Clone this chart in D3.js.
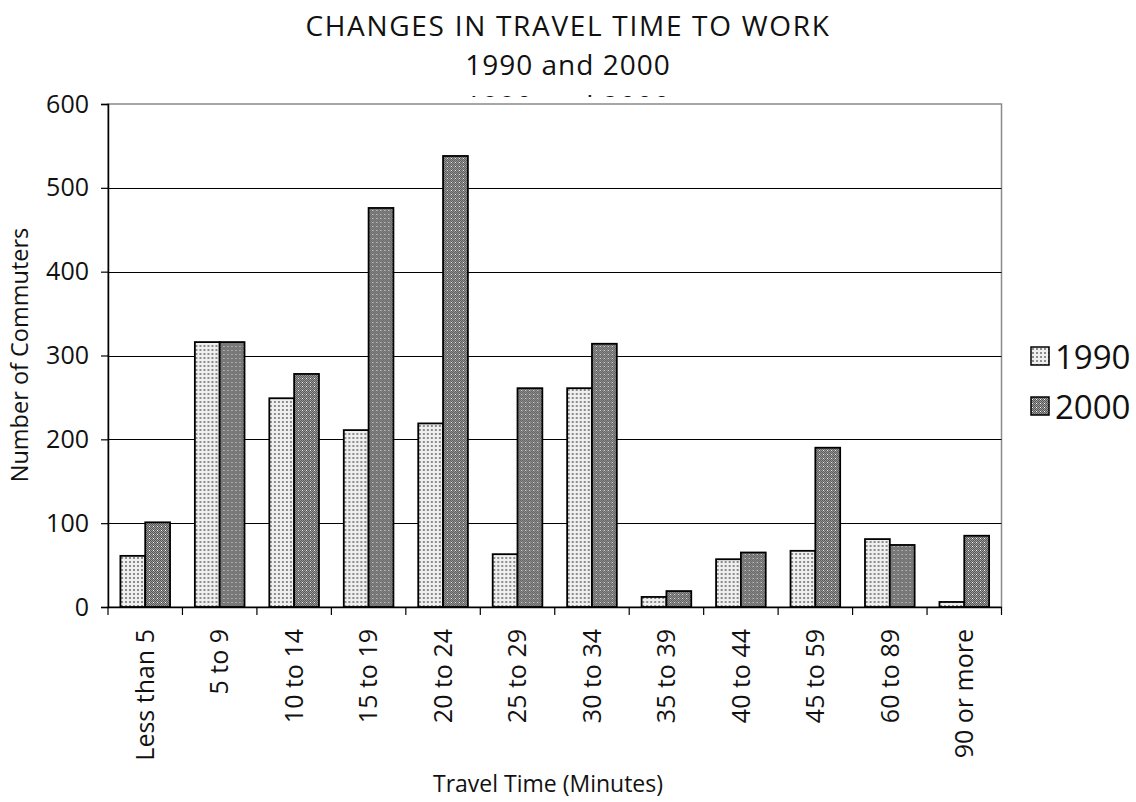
<!DOCTYPE html>
<html>
<head>
<meta charset="utf-8">
<script src="https://cdn.jsdelivr.net/npm/d3@7"></script>
<style>
  html, body { margin: 0; padding: 0; background: #fff; }
  svg { display: block; font-family: "Open Sans", Lato, sans-serif; }
</style>
</head>
<body>
<svg id="chart" width="1136" height="802"></svg>
<script>
// Commuters by travel time band
const categories = ["Less than 5", "5 to 9", "10 to 14", "15 to 19", "20 to 24", "25 to 29",
                    "30 to 34", "35 to 39", "40 to 44", "45 to 59", "60 to 89", "90 or more"];
const series = ["1990", "2000"];
const values1990 = [61, 316, 249, 211, 219, 63, 261, 12, 57, 67, 81, 6];
const values2000 = [101, 316, 278, 476, 538, 261, 314, 19, 65, 190, 74, 85];
const yTicks = [0, 100, 200, 300, 400, 500, 600];

const FONT = "'Open Sans', Lato, sans-serif";
const svg = d3.select("#chart");
const plot = { left: 108, right: 1001.5, top: 104, bottom: 607 };

// Fill patterns for the two series
const defs = svg.append("defs");
const p1 = defs.append("pattern").attr("id", "pat1990")
  .attr("patternUnits", "userSpaceOnUse").attr("width", 4).attr("height", 4);
p1.append("rect").attr("width", 4).attr("height", 4).attr("fill", "#efefef");
p1.append("rect").attr("x", 1).attr("y", 1).attr("width", 2).attr("height", 2).attr("fill", "#8c8c8c");

const p2 = defs.append("pattern").attr("id", "pat2000")
  .attr("patternUnits", "userSpaceOnUse").attr("width", 4).attr("height", 4);
p2.append("rect").attr("width", 4).attr("height", 4).attr("fill", "#9c9c9c");
[[0,0],[2,0],[1,1],[3,1],[0,2],[2,2],[1,3],[3,3]].forEach(([x, y]) =>
  p2.append("rect").attr("x", x).attr("y", y).attr("width", 1).attr("height", 1).attr("fill", "#545454"));
p2.append("rect").attr("x", 1).attr("y", 2).attr("width", 1).attr("height", 1).attr("fill", "#ffffff");

// Clip for the partially hidden second subtitle line
defs.append("clipPath").attr("id", "ghostClip")
  .append("rect").attr("x", 0).attr("y", 0).attr("width", 1136).attr("height", 97);

const x = d3.scaleBand().domain(categories).range([plot.left, plot.right]).padding(0);
const y = d3.scaleLinear().domain([0, 600]).range([plot.bottom, plot.top]);
const barW = x.bandwidth() / 3;
const xs = d3.scaleBand().domain(series).range([barW / 2, barW / 2 + 2 * barW]).padding(0);

// Titles
svg.append("text").attr("x", 568).attr("y", 36).attr("text-anchor", "middle")
  .attr("font-size", 28).attr("letter-spacing", 1.7).attr("fill", "#111")
  .text("CHANGES IN TRAVEL TIME TO WORK");
svg.append("text").attr("x", 568).attr("y", 75).attr("text-anchor", "middle")
  .attr("font-size", 28).attr("letter-spacing", 1).attr("fill", "#111").text("1990 and 2000");
svg.append("text").attr("x", 568).attr("y", 115.5).attr("text-anchor", "middle")
  .attr("font-size", 28).attr("letter-spacing", 1).attr("fill", "#111")
  .attr("clip-path", "url(#ghostClip)").text("1990 and 2000");

// Plot frame
svg.append("rect").attr("x", plot.left).attr("y", plot.top)
  .attr("width", plot.right - plot.left).attr("height", plot.bottom - plot.top)
  .attr("fill", "#fff").attr("stroke", "#8a8a8a").attr("stroke-width", 1.5);

// Gridlines
svg.append("g").selectAll("line").data(yTicks.filter(d => d > 0 && d < 600)).join("line")
  .attr("x1", plot.left).attr("x2", plot.right)
  .attr("y1", d => Math.round(y(d)) + 0.5).attr("y2", d => Math.round(y(d)) + 0.5)
  .attr("stroke", "#000").attr("stroke-width", 1.2);

// Bars
const groups = svg.append("g").selectAll("g").data(categories).join("g")
  .attr("transform", d => `translate(${x(d)},0)`);
groups.selectAll("rect")
  .data((d, i) => [{ s: "1990", v: values1990[i] }, { s: "2000", v: values2000[i] }])
  .join("rect")
  .attr("x", d => xs(d.s))
  .attr("y", d => y(d.v))
  .attr("width", barW)
  .attr("height", d => y(0) - y(d.v))
  .attr("fill", d => `url(#pat${d.s})`)
  .attr("stroke", "#000").attr("stroke-width", 1.8);

// Y axis
const yAxis = svg.append("g").attr("transform", `translate(${plot.left},0)`)
  .call(d3.axisLeft(y).tickValues(yTicks).tickSize(7).tickPadding(12));
yAxis.select(".domain").attr("stroke", "#000").attr("stroke-width", 1.5);
yAxis.selectAll(".tick line").attr("stroke", "#000").attr("stroke-width", 1.2);
yAxis.selectAll(".tick text").attr("font-size", 25).attr("fill", "#111")
  .attr("font-family", FONT);

// X axis
const xAxis = svg.append("g").attr("transform", `translate(0,${plot.bottom})`)
  .call(d3.axisBottom(x).tickSize(0).tickSizeOuter(0));
xAxis.select(".domain").attr("stroke", "#000").attr("stroke-width", 1.5);
xAxis.selectAll(".tick text")
  .attr("font-size", 25).attr("fill", "#111")
  .attr("font-family", FONT)
  .attr("transform", "rotate(-90)")
  .attr("text-anchor", "end")
  .attr("x", -22).attr("y", 0).attr("dy", "0.35em");
// Tick marks at category boundaries
svg.append("g").selectAll("line")
  .data(categories.map(c => x(c)).concat([plot.right])).join("line")
  .attr("x1", d => d).attr("x2", d => d)
  .attr("y1", plot.bottom).attr("y2", plot.bottom + 8)
  .attr("stroke", "#000").attr("stroke-width", 1.2);

// Axis titles
svg.append("text").attr("transform", "translate(28,355) rotate(-90)")
  .attr("text-anchor", "middle").attr("font-size", 23.5).attr("fill", "#111")
  .text("Number of Commuters");
svg.append("text").attr("x", 548).attr("y", 792).attr("text-anchor", "middle")
  .attr("font-size", 23).attr("fill", "#111").text("Travel Time (Minutes)");

// Legend
const legend = svg.append("g").attr("transform", "translate(1031,347)");
const items = legend.selectAll("g").data(series).join("g")
  .attr("transform", (d, i) => `translate(0,${i * 50})`);
items.append("rect").attr("width", 18).attr("height", 18)
  .attr("fill", d => `url(#pat${d})`).attr("stroke", "#000").attr("stroke-width", 1.5);
items.append("text").attr("x", 24).attr("y", 10).attr("dy", "0.35em")
  .attr("font-size", 33).attr("fill", "#111").text(d => d);
</script>
</body>
</html>
